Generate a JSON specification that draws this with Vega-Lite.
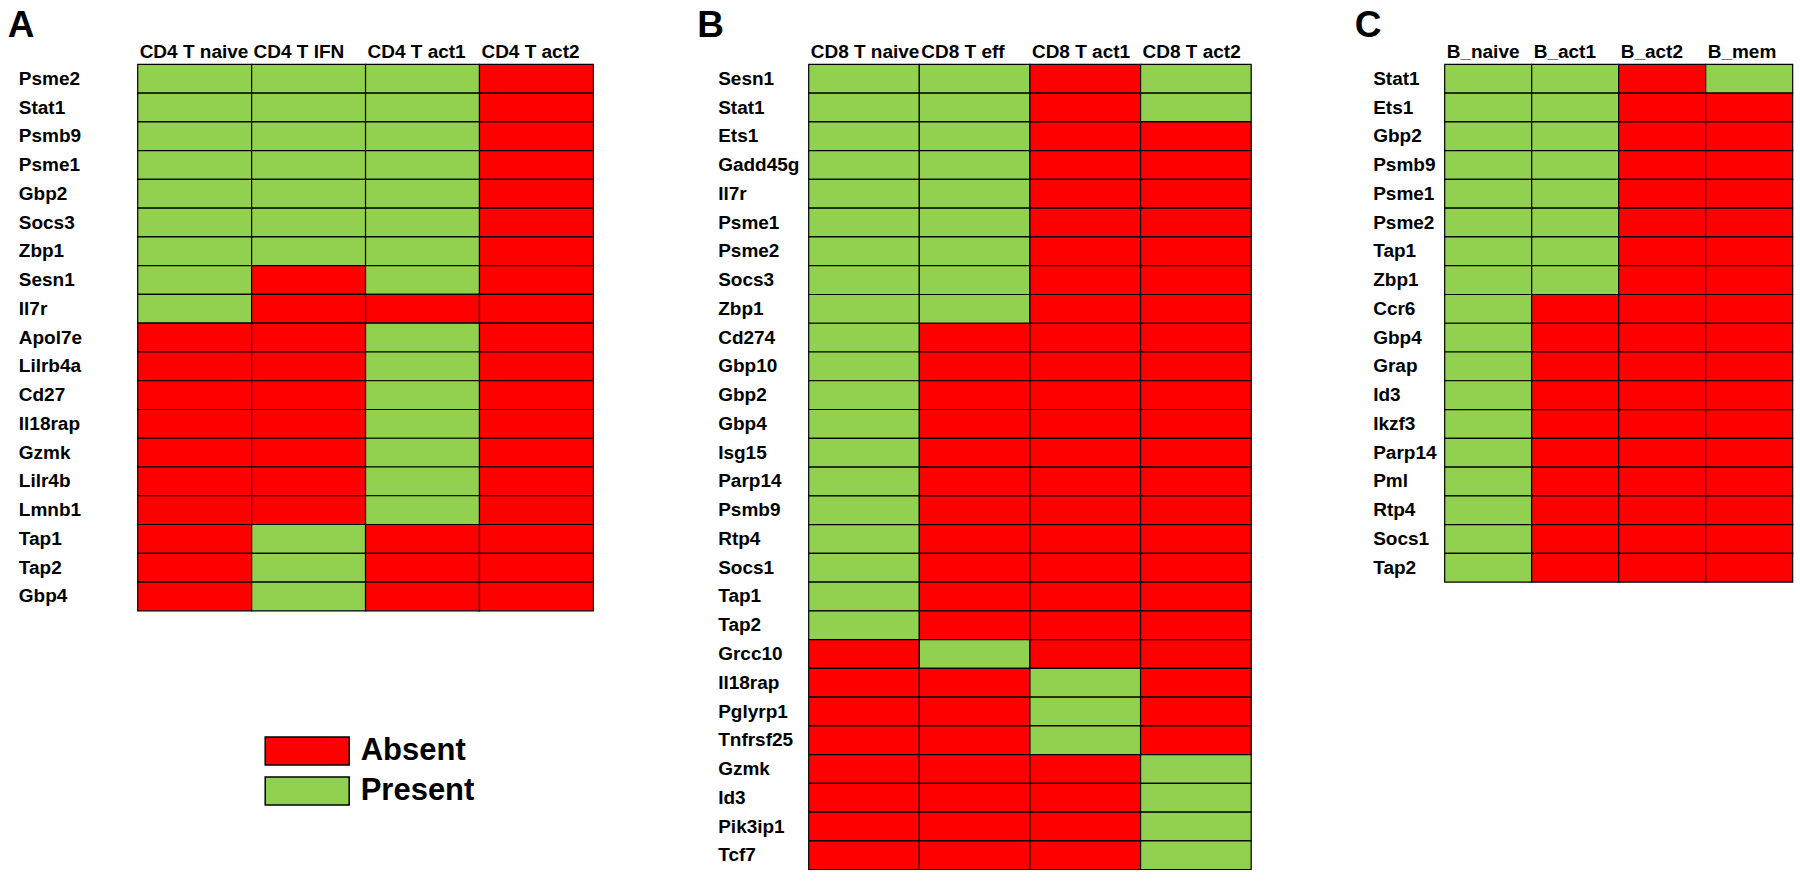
{
  "$schema": "https://vega.github.io/schema/vega-lite/v6.json",
  "background": "white",
  "padding": {"left": 7.7, "top": 6.4, "right": 0, "bottom": 0},
  "spacing": 102,
  "resolve": {"scale": {"x": "independent", "y": "independent"}},
  "config": {
    "font": "Liberation Sans",
    "view": {"stroke": null},
    "axis": {"labelFont": "Liberation Sans", "labelFontSize": 19, "labelFontWeight": "bold", "labelColor": "black", "domain": false, "ticks": false, "title": null, "labelOverlap": false, "labelLimit": 300},
    "title": {"font": "Liberation Sans", "fontSize": 37, "fontWeight": "bold", "color": "black", "anchor": "start", "frame": "group", "baseline": "alphabetic", "offset": -2.5}
  },
  "data": {"values": [
    {"panel":"A","gene":"Psme2","cell":"CD4 T naive","status":"Present"},{"panel":"A","gene":"Psme2","cell":"CD4 T IFN","status":"Present"},{"panel":"A","gene":"Psme2","cell":"CD4 T act1","status":"Present"},{"panel":"A","gene":"Psme2","cell":"CD4 T act2","status":"Absent"},
    {"panel":"A","gene":"Stat1","cell":"CD4 T naive","status":"Present"},{"panel":"A","gene":"Stat1","cell":"CD4 T IFN","status":"Present"},{"panel":"A","gene":"Stat1","cell":"CD4 T act1","status":"Present"},{"panel":"A","gene":"Stat1","cell":"CD4 T act2","status":"Absent"},
    {"panel":"A","gene":"Psmb9","cell":"CD4 T naive","status":"Present"},{"panel":"A","gene":"Psmb9","cell":"CD4 T IFN","status":"Present"},{"panel":"A","gene":"Psmb9","cell":"CD4 T act1","status":"Present"},{"panel":"A","gene":"Psmb9","cell":"CD4 T act2","status":"Absent"},
    {"panel":"A","gene":"Psme1","cell":"CD4 T naive","status":"Present"},{"panel":"A","gene":"Psme1","cell":"CD4 T IFN","status":"Present"},{"panel":"A","gene":"Psme1","cell":"CD4 T act1","status":"Present"},{"panel":"A","gene":"Psme1","cell":"CD4 T act2","status":"Absent"},
    {"panel":"A","gene":"Gbp2","cell":"CD4 T naive","status":"Present"},{"panel":"A","gene":"Gbp2","cell":"CD4 T IFN","status":"Present"},{"panel":"A","gene":"Gbp2","cell":"CD4 T act1","status":"Present"},{"panel":"A","gene":"Gbp2","cell":"CD4 T act2","status":"Absent"},
    {"panel":"A","gene":"Socs3","cell":"CD4 T naive","status":"Present"},{"panel":"A","gene":"Socs3","cell":"CD4 T IFN","status":"Present"},{"panel":"A","gene":"Socs3","cell":"CD4 T act1","status":"Present"},{"panel":"A","gene":"Socs3","cell":"CD4 T act2","status":"Absent"},
    {"panel":"A","gene":"Zbp1","cell":"CD4 T naive","status":"Present"},{"panel":"A","gene":"Zbp1","cell":"CD4 T IFN","status":"Present"},{"panel":"A","gene":"Zbp1","cell":"CD4 T act1","status":"Present"},{"panel":"A","gene":"Zbp1","cell":"CD4 T act2","status":"Absent"},
    {"panel":"A","gene":"Sesn1","cell":"CD4 T naive","status":"Present"},{"panel":"A","gene":"Sesn1","cell":"CD4 T IFN","status":"Absent"},{"panel":"A","gene":"Sesn1","cell":"CD4 T act1","status":"Present"},{"panel":"A","gene":"Sesn1","cell":"CD4 T act2","status":"Absent"},
    {"panel":"A","gene":"Il7r","cell":"CD4 T naive","status":"Present"},{"panel":"A","gene":"Il7r","cell":"CD4 T IFN","status":"Absent"},{"panel":"A","gene":"Il7r","cell":"CD4 T act1","status":"Absent"},{"panel":"A","gene":"Il7r","cell":"CD4 T act2","status":"Absent"},
    {"panel":"A","gene":"Apol7e","cell":"CD4 T naive","status":"Absent"},{"panel":"A","gene":"Apol7e","cell":"CD4 T IFN","status":"Absent"},{"panel":"A","gene":"Apol7e","cell":"CD4 T act1","status":"Present"},{"panel":"A","gene":"Apol7e","cell":"CD4 T act2","status":"Absent"},
    {"panel":"A","gene":"Lilrb4a","cell":"CD4 T naive","status":"Absent"},{"panel":"A","gene":"Lilrb4a","cell":"CD4 T IFN","status":"Absent"},{"panel":"A","gene":"Lilrb4a","cell":"CD4 T act1","status":"Present"},{"panel":"A","gene":"Lilrb4a","cell":"CD4 T act2","status":"Absent"},
    {"panel":"A","gene":"Cd27","cell":"CD4 T naive","status":"Absent"},{"panel":"A","gene":"Cd27","cell":"CD4 T IFN","status":"Absent"},{"panel":"A","gene":"Cd27","cell":"CD4 T act1","status":"Present"},{"panel":"A","gene":"Cd27","cell":"CD4 T act2","status":"Absent"},
    {"panel":"A","gene":"Il18rap","cell":"CD4 T naive","status":"Absent"},{"panel":"A","gene":"Il18rap","cell":"CD4 T IFN","status":"Absent"},{"panel":"A","gene":"Il18rap","cell":"CD4 T act1","status":"Present"},{"panel":"A","gene":"Il18rap","cell":"CD4 T act2","status":"Absent"},
    {"panel":"A","gene":"Gzmk","cell":"CD4 T naive","status":"Absent"},{"panel":"A","gene":"Gzmk","cell":"CD4 T IFN","status":"Absent"},{"panel":"A","gene":"Gzmk","cell":"CD4 T act1","status":"Present"},{"panel":"A","gene":"Gzmk","cell":"CD4 T act2","status":"Absent"},
    {"panel":"A","gene":"Lilr4b","cell":"CD4 T naive","status":"Absent"},{"panel":"A","gene":"Lilr4b","cell":"CD4 T IFN","status":"Absent"},{"panel":"A","gene":"Lilr4b","cell":"CD4 T act1","status":"Present"},{"panel":"A","gene":"Lilr4b","cell":"CD4 T act2","status":"Absent"},
    {"panel":"A","gene":"Lmnb1","cell":"CD4 T naive","status":"Absent"},{"panel":"A","gene":"Lmnb1","cell":"CD4 T IFN","status":"Absent"},{"panel":"A","gene":"Lmnb1","cell":"CD4 T act1","status":"Present"},{"panel":"A","gene":"Lmnb1","cell":"CD4 T act2","status":"Absent"},
    {"panel":"A","gene":"Tap1","cell":"CD4 T naive","status":"Absent"},{"panel":"A","gene":"Tap1","cell":"CD4 T IFN","status":"Present"},{"panel":"A","gene":"Tap1","cell":"CD4 T act1","status":"Absent"},{"panel":"A","gene":"Tap1","cell":"CD4 T act2","status":"Absent"},
    {"panel":"A","gene":"Tap2","cell":"CD4 T naive","status":"Absent"},{"panel":"A","gene":"Tap2","cell":"CD4 T IFN","status":"Present"},{"panel":"A","gene":"Tap2","cell":"CD4 T act1","status":"Absent"},{"panel":"A","gene":"Tap2","cell":"CD4 T act2","status":"Absent"},
    {"panel":"A","gene":"Gbp4","cell":"CD4 T naive","status":"Absent"},{"panel":"A","gene":"Gbp4","cell":"CD4 T IFN","status":"Present"},{"panel":"A","gene":"Gbp4","cell":"CD4 T act1","status":"Absent"},{"panel":"A","gene":"Gbp4","cell":"CD4 T act2","status":"Absent"},

    {"panel":"B","gene":"Sesn1","cell":"CD8 T naive","status":"Present"},{"panel":"B","gene":"Sesn1","cell":"CD8 T eff","status":"Present"},{"panel":"B","gene":"Sesn1","cell":"CD8 T act1","status":"Absent"},{"panel":"B","gene":"Sesn1","cell":"CD8 T act2","status":"Present"},
    {"panel":"B","gene":"Stat1","cell":"CD8 T naive","status":"Present"},{"panel":"B","gene":"Stat1","cell":"CD8 T eff","status":"Present"},{"panel":"B","gene":"Stat1","cell":"CD8 T act1","status":"Absent"},{"panel":"B","gene":"Stat1","cell":"CD8 T act2","status":"Present"},
    {"panel":"B","gene":"Ets1","cell":"CD8 T naive","status":"Present"},{"panel":"B","gene":"Ets1","cell":"CD8 T eff","status":"Present"},{"panel":"B","gene":"Ets1","cell":"CD8 T act1","status":"Absent"},{"panel":"B","gene":"Ets1","cell":"CD8 T act2","status":"Absent"},
    {"panel":"B","gene":"Gadd45g","cell":"CD8 T naive","status":"Present"},{"panel":"B","gene":"Gadd45g","cell":"CD8 T eff","status":"Present"},{"panel":"B","gene":"Gadd45g","cell":"CD8 T act1","status":"Absent"},{"panel":"B","gene":"Gadd45g","cell":"CD8 T act2","status":"Absent"},
    {"panel":"B","gene":"Il7r","cell":"CD8 T naive","status":"Present"},{"panel":"B","gene":"Il7r","cell":"CD8 T eff","status":"Present"},{"panel":"B","gene":"Il7r","cell":"CD8 T act1","status":"Absent"},{"panel":"B","gene":"Il7r","cell":"CD8 T act2","status":"Absent"},
    {"panel":"B","gene":"Psme1","cell":"CD8 T naive","status":"Present"},{"panel":"B","gene":"Psme1","cell":"CD8 T eff","status":"Present"},{"panel":"B","gene":"Psme1","cell":"CD8 T act1","status":"Absent"},{"panel":"B","gene":"Psme1","cell":"CD8 T act2","status":"Absent"},
    {"panel":"B","gene":"Psme2","cell":"CD8 T naive","status":"Present"},{"panel":"B","gene":"Psme2","cell":"CD8 T eff","status":"Present"},{"panel":"B","gene":"Psme2","cell":"CD8 T act1","status":"Absent"},{"panel":"B","gene":"Psme2","cell":"CD8 T act2","status":"Absent"},
    {"panel":"B","gene":"Socs3","cell":"CD8 T naive","status":"Present"},{"panel":"B","gene":"Socs3","cell":"CD8 T eff","status":"Present"},{"panel":"B","gene":"Socs3","cell":"CD8 T act1","status":"Absent"},{"panel":"B","gene":"Socs3","cell":"CD8 T act2","status":"Absent"},
    {"panel":"B","gene":"Zbp1","cell":"CD8 T naive","status":"Present"},{"panel":"B","gene":"Zbp1","cell":"CD8 T eff","status":"Present"},{"panel":"B","gene":"Zbp1","cell":"CD8 T act1","status":"Absent"},{"panel":"B","gene":"Zbp1","cell":"CD8 T act2","status":"Absent"},
    {"panel":"B","gene":"Cd274","cell":"CD8 T naive","status":"Present"},{"panel":"B","gene":"Cd274","cell":"CD8 T eff","status":"Absent"},{"panel":"B","gene":"Cd274","cell":"CD8 T act1","status":"Absent"},{"panel":"B","gene":"Cd274","cell":"CD8 T act2","status":"Absent"},
    {"panel":"B","gene":"Gbp10","cell":"CD8 T naive","status":"Present"},{"panel":"B","gene":"Gbp10","cell":"CD8 T eff","status":"Absent"},{"panel":"B","gene":"Gbp10","cell":"CD8 T act1","status":"Absent"},{"panel":"B","gene":"Gbp10","cell":"CD8 T act2","status":"Absent"},
    {"panel":"B","gene":"Gbp2","cell":"CD8 T naive","status":"Present"},{"panel":"B","gene":"Gbp2","cell":"CD8 T eff","status":"Absent"},{"panel":"B","gene":"Gbp2","cell":"CD8 T act1","status":"Absent"},{"panel":"B","gene":"Gbp2","cell":"CD8 T act2","status":"Absent"},
    {"panel":"B","gene":"Gbp4","cell":"CD8 T naive","status":"Present"},{"panel":"B","gene":"Gbp4","cell":"CD8 T eff","status":"Absent"},{"panel":"B","gene":"Gbp4","cell":"CD8 T act1","status":"Absent"},{"panel":"B","gene":"Gbp4","cell":"CD8 T act2","status":"Absent"},
    {"panel":"B","gene":"Isg15","cell":"CD8 T naive","status":"Present"},{"panel":"B","gene":"Isg15","cell":"CD8 T eff","status":"Absent"},{"panel":"B","gene":"Isg15","cell":"CD8 T act1","status":"Absent"},{"panel":"B","gene":"Isg15","cell":"CD8 T act2","status":"Absent"},
    {"panel":"B","gene":"Parp14","cell":"CD8 T naive","status":"Present"},{"panel":"B","gene":"Parp14","cell":"CD8 T eff","status":"Absent"},{"panel":"B","gene":"Parp14","cell":"CD8 T act1","status":"Absent"},{"panel":"B","gene":"Parp14","cell":"CD8 T act2","status":"Absent"},
    {"panel":"B","gene":"Psmb9","cell":"CD8 T naive","status":"Present"},{"panel":"B","gene":"Psmb9","cell":"CD8 T eff","status":"Absent"},{"panel":"B","gene":"Psmb9","cell":"CD8 T act1","status":"Absent"},{"panel":"B","gene":"Psmb9","cell":"CD8 T act2","status":"Absent"},
    {"panel":"B","gene":"Rtp4","cell":"CD8 T naive","status":"Present"},{"panel":"B","gene":"Rtp4","cell":"CD8 T eff","status":"Absent"},{"panel":"B","gene":"Rtp4","cell":"CD8 T act1","status":"Absent"},{"panel":"B","gene":"Rtp4","cell":"CD8 T act2","status":"Absent"},
    {"panel":"B","gene":"Socs1","cell":"CD8 T naive","status":"Present"},{"panel":"B","gene":"Socs1","cell":"CD8 T eff","status":"Absent"},{"panel":"B","gene":"Socs1","cell":"CD8 T act1","status":"Absent"},{"panel":"B","gene":"Socs1","cell":"CD8 T act2","status":"Absent"},
    {"panel":"B","gene":"Tap1","cell":"CD8 T naive","status":"Present"},{"panel":"B","gene":"Tap1","cell":"CD8 T eff","status":"Absent"},{"panel":"B","gene":"Tap1","cell":"CD8 T act1","status":"Absent"},{"panel":"B","gene":"Tap1","cell":"CD8 T act2","status":"Absent"},
    {"panel":"B","gene":"Tap2","cell":"CD8 T naive","status":"Present"},{"panel":"B","gene":"Tap2","cell":"CD8 T eff","status":"Absent"},{"panel":"B","gene":"Tap2","cell":"CD8 T act1","status":"Absent"},{"panel":"B","gene":"Tap2","cell":"CD8 T act2","status":"Absent"},
    {"panel":"B","gene":"Grcc10","cell":"CD8 T naive","status":"Absent"},{"panel":"B","gene":"Grcc10","cell":"CD8 T eff","status":"Present"},{"panel":"B","gene":"Grcc10","cell":"CD8 T act1","status":"Absent"},{"panel":"B","gene":"Grcc10","cell":"CD8 T act2","status":"Absent"},
    {"panel":"B","gene":"Il18rap","cell":"CD8 T naive","status":"Absent"},{"panel":"B","gene":"Il18rap","cell":"CD8 T eff","status":"Absent"},{"panel":"B","gene":"Il18rap","cell":"CD8 T act1","status":"Present"},{"panel":"B","gene":"Il18rap","cell":"CD8 T act2","status":"Absent"},
    {"panel":"B","gene":"Pglyrp1","cell":"CD8 T naive","status":"Absent"},{"panel":"B","gene":"Pglyrp1","cell":"CD8 T eff","status":"Absent"},{"panel":"B","gene":"Pglyrp1","cell":"CD8 T act1","status":"Present"},{"panel":"B","gene":"Pglyrp1","cell":"CD8 T act2","status":"Absent"},
    {"panel":"B","gene":"Tnfrsf25","cell":"CD8 T naive","status":"Absent"},{"panel":"B","gene":"Tnfrsf25","cell":"CD8 T eff","status":"Absent"},{"panel":"B","gene":"Tnfrsf25","cell":"CD8 T act1","status":"Present"},{"panel":"B","gene":"Tnfrsf25","cell":"CD8 T act2","status":"Absent"},
    {"panel":"B","gene":"Gzmk","cell":"CD8 T naive","status":"Absent"},{"panel":"B","gene":"Gzmk","cell":"CD8 T eff","status":"Absent"},{"panel":"B","gene":"Gzmk","cell":"CD8 T act1","status":"Absent"},{"panel":"B","gene":"Gzmk","cell":"CD8 T act2","status":"Present"},
    {"panel":"B","gene":"Id3","cell":"CD8 T naive","status":"Absent"},{"panel":"B","gene":"Id3","cell":"CD8 T eff","status":"Absent"},{"panel":"B","gene":"Id3","cell":"CD8 T act1","status":"Absent"},{"panel":"B","gene":"Id3","cell":"CD8 T act2","status":"Present"},
    {"panel":"B","gene":"Pik3ip1","cell":"CD8 T naive","status":"Absent"},{"panel":"B","gene":"Pik3ip1","cell":"CD8 T eff","status":"Absent"},{"panel":"B","gene":"Pik3ip1","cell":"CD8 T act1","status":"Absent"},{"panel":"B","gene":"Pik3ip1","cell":"CD8 T act2","status":"Present"},
    {"panel":"B","gene":"Tcf7","cell":"CD8 T naive","status":"Absent"},{"panel":"B","gene":"Tcf7","cell":"CD8 T eff","status":"Absent"},{"panel":"B","gene":"Tcf7","cell":"CD8 T act1","status":"Absent"},{"panel":"B","gene":"Tcf7","cell":"CD8 T act2","status":"Present"},

    {"panel":"C","gene":"Stat1","cell":"B_naive","status":"Present"},{"panel":"C","gene":"Stat1","cell":"B_act1","status":"Present"},{"panel":"C","gene":"Stat1","cell":"B_act2","status":"Absent"},{"panel":"C","gene":"Stat1","cell":"B_mem","status":"Present"},
    {"panel":"C","gene":"Ets1","cell":"B_naive","status":"Present"},{"panel":"C","gene":"Ets1","cell":"B_act1","status":"Present"},{"panel":"C","gene":"Ets1","cell":"B_act2","status":"Absent"},{"panel":"C","gene":"Ets1","cell":"B_mem","status":"Absent"},
    {"panel":"C","gene":"Gbp2","cell":"B_naive","status":"Present"},{"panel":"C","gene":"Gbp2","cell":"B_act1","status":"Present"},{"panel":"C","gene":"Gbp2","cell":"B_act2","status":"Absent"},{"panel":"C","gene":"Gbp2","cell":"B_mem","status":"Absent"},
    {"panel":"C","gene":"Psmb9","cell":"B_naive","status":"Present"},{"panel":"C","gene":"Psmb9","cell":"B_act1","status":"Present"},{"panel":"C","gene":"Psmb9","cell":"B_act2","status":"Absent"},{"panel":"C","gene":"Psmb9","cell":"B_mem","status":"Absent"},
    {"panel":"C","gene":"Psme1","cell":"B_naive","status":"Present"},{"panel":"C","gene":"Psme1","cell":"B_act1","status":"Present"},{"panel":"C","gene":"Psme1","cell":"B_act2","status":"Absent"},{"panel":"C","gene":"Psme1","cell":"B_mem","status":"Absent"},
    {"panel":"C","gene":"Psme2","cell":"B_naive","status":"Present"},{"panel":"C","gene":"Psme2","cell":"B_act1","status":"Present"},{"panel":"C","gene":"Psme2","cell":"B_act2","status":"Absent"},{"panel":"C","gene":"Psme2","cell":"B_mem","status":"Absent"},
    {"panel":"C","gene":"Tap1","cell":"B_naive","status":"Present"},{"panel":"C","gene":"Tap1","cell":"B_act1","status":"Present"},{"panel":"C","gene":"Tap1","cell":"B_act2","status":"Absent"},{"panel":"C","gene":"Tap1","cell":"B_mem","status":"Absent"},
    {"panel":"C","gene":"Zbp1","cell":"B_naive","status":"Present"},{"panel":"C","gene":"Zbp1","cell":"B_act1","status":"Present"},{"panel":"C","gene":"Zbp1","cell":"B_act2","status":"Absent"},{"panel":"C","gene":"Zbp1","cell":"B_mem","status":"Absent"},
    {"panel":"C","gene":"Ccr6","cell":"B_naive","status":"Present"},{"panel":"C","gene":"Ccr6","cell":"B_act1","status":"Absent"},{"panel":"C","gene":"Ccr6","cell":"B_act2","status":"Absent"},{"panel":"C","gene":"Ccr6","cell":"B_mem","status":"Absent"},
    {"panel":"C","gene":"Gbp4","cell":"B_naive","status":"Present"},{"panel":"C","gene":"Gbp4","cell":"B_act1","status":"Absent"},{"panel":"C","gene":"Gbp4","cell":"B_act2","status":"Absent"},{"panel":"C","gene":"Gbp4","cell":"B_mem","status":"Absent"},
    {"panel":"C","gene":"Grap","cell":"B_naive","status":"Present"},{"panel":"C","gene":"Grap","cell":"B_act1","status":"Absent"},{"panel":"C","gene":"Grap","cell":"B_act2","status":"Absent"},{"panel":"C","gene":"Grap","cell":"B_mem","status":"Absent"},
    {"panel":"C","gene":"Id3","cell":"B_naive","status":"Present"},{"panel":"C","gene":"Id3","cell":"B_act1","status":"Absent"},{"panel":"C","gene":"Id3","cell":"B_act2","status":"Absent"},{"panel":"C","gene":"Id3","cell":"B_mem","status":"Absent"},
    {"panel":"C","gene":"Ikzf3","cell":"B_naive","status":"Present"},{"panel":"C","gene":"Ikzf3","cell":"B_act1","status":"Absent"},{"panel":"C","gene":"Ikzf3","cell":"B_act2","status":"Absent"},{"panel":"C","gene":"Ikzf3","cell":"B_mem","status":"Absent"},
    {"panel":"C","gene":"Parp14","cell":"B_naive","status":"Present"},{"panel":"C","gene":"Parp14","cell":"B_act1","status":"Absent"},{"panel":"C","gene":"Parp14","cell":"B_act2","status":"Absent"},{"panel":"C","gene":"Parp14","cell":"B_mem","status":"Absent"},
    {"panel":"C","gene":"Pml","cell":"B_naive","status":"Present"},{"panel":"C","gene":"Pml","cell":"B_act1","status":"Absent"},{"panel":"C","gene":"Pml","cell":"B_act2","status":"Absent"},{"panel":"C","gene":"Pml","cell":"B_mem","status":"Absent"},
    {"panel":"C","gene":"Rtp4","cell":"B_naive","status":"Present"},{"panel":"C","gene":"Rtp4","cell":"B_act1","status":"Absent"},{"panel":"C","gene":"Rtp4","cell":"B_act2","status":"Absent"},{"panel":"C","gene":"Rtp4","cell":"B_mem","status":"Absent"},
    {"panel":"C","gene":"Socs1","cell":"B_naive","status":"Present"},{"panel":"C","gene":"Socs1","cell":"B_act1","status":"Absent"},{"panel":"C","gene":"Socs1","cell":"B_act2","status":"Absent"},{"panel":"C","gene":"Socs1","cell":"B_mem","status":"Absent"},
    {"panel":"C","gene":"Tap2","cell":"B_naive","status":"Present"},{"panel":"C","gene":"Tap2","cell":"B_act1","status":"Absent"},{"panel":"C","gene":"Tap2","cell":"B_act2","status":"Absent"},{"panel":"C","gene":"Tap2","cell":"B_mem","status":"Absent"}
  ]},
  "hconcat": [
    {
      "title": {"text": "A", "dx": -130},
      "transform": [{"filter": "datum.panel === 'A'"}],
      "width": 455.7,
      "height": 546.4,
      "mark": {"type": "rect", "stroke": "black", "strokeWidth": 1.2},
      "encoding": {
        "x": {"field": "cell", "type": "nominal", "sort": null, "scale": {"paddingInner": 0, "paddingOuter": 0},
              "axis": {"orient": "top", "labelAngle": 0, "labelAlign": "left", "labelOffset": -55, "labelBaseline": "alphabetic", "labelPadding": 7}},
        "y": {"field": "gene", "type": "nominal", "sort": null, "scale": {"paddingInner": 0, "paddingOuter": 0},
              "axis": {"labelAlign": "left", "labelBaseline": "middle", "labelPadding": 119.4}},
        "color": {"field": "status", "type": "nominal",
                  "scale": {"domain": ["Absent", "Present"], "range": ["#FF0000", "#92D050"]},
                  "legend": {"title": null, "orient": "none", "legendX": 126, "legendY": 671,
                             "symbolType": "M-1,-1H5V1H-1Z", "symbolSize": 784,
                             "symbolStrokeColor": "black", "symbolStrokeWidth": 1.5, "symbolOpacity": 1,
                             "labelFont": "Liberation Sans", "labelFontSize": 31, "labelFontWeight": "bold", "labelColor": "black",
                             "labelOffset": 66, "rowPadding": 5, "labelLimit": 300}}
      }
    },
    {
      "title": {"text": "B", "dx": -111.5},
      "transform": [{"filter": "datum.panel === 'B'"}],
      "width": 442.5,
      "height": 805.3,
      "mark": {"type": "rect", "stroke": "black", "strokeWidth": 1.2},
      "encoding": {
        "x": {"field": "cell", "type": "nominal", "sort": null, "scale": {"paddingInner": 0, "paddingOuter": 0},
              "axis": {"orient": "top", "labelAngle": 0, "labelAlign": "left", "labelOffset": -53.3, "labelBaseline": "alphabetic", "labelPadding": 7}},
        "y": {"field": "gene", "type": "nominal", "sort": null, "scale": {"paddingInner": 0, "paddingOuter": 0},
              "axis": {"labelAlign": "left", "labelBaseline": "middle", "labelPadding": 91}},
        "color": {"field": "status", "type": "nominal",
                  "scale": {"domain": ["Absent", "Present"], "range": ["#FF0000", "#92D050"]}}
      }
    },
    {
      "title": {"text": "C", "dx": -90},
      "transform": [{"filter": "datum.panel === 'C'"}],
      "width": 348,
      "height": 517.7,
      "mark": {"type": "rect", "stroke": "black", "strokeWidth": 1.2},
      "encoding": {
        "x": {"field": "cell", "type": "nominal", "sort": null, "scale": {"paddingInner": 0, "paddingOuter": 0},
              "axis": {"orient": "top", "labelAngle": 0, "labelAlign": "left", "labelOffset": -41.5, "labelBaseline": "alphabetic", "labelPadding": 7}},
        "y": {"field": "gene", "type": "nominal", "sort": null, "scale": {"paddingInner": 0, "paddingOuter": 0},
              "axis": {"labelAlign": "left", "labelBaseline": "middle", "labelPadding": 72}},
        "color": {"field": "status", "type": "nominal",
                  "scale": {"domain": ["Absent", "Present"], "range": ["#FF0000", "#92D050"]}}
      }
    }
  ]
}
